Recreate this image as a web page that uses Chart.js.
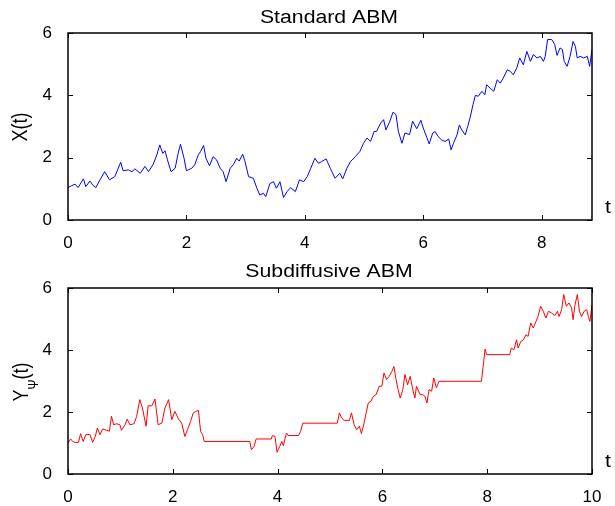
<!DOCTYPE html>
<html>
<head>
<meta charset="utf-8">
<script src="https://cdn.jsdelivr.net/npm/chart.js@4/dist/chart.umd.min.js"></script>
<style>
  html, body { margin: 0; padding: 0; background: #fff; }
  #wrap { position: relative; width: 615px; height: 506px; }
  .panel { position: absolute; left: 0; width: 615px; height: 253px; }
  #top { top: 0; }
  #bottom { top: 253px; }
</style>
</head>
<body>
<div id="wrap">
  <div class="panel" id="top"><canvas id="abmChart"></canvas></div>
  <div class="panel" id="bottom"><canvas id="subChart"></canvas></div>
</div>
<script>
// standard ABM path X(t)
const abmT = [0.00, 0.06, 0.12, 0.17, 0.26, 0.30, 0.37, 0.42, 0.47, 0.54, 0.62, 0.70, 0.79, 0.89, 0.93,
  1.02, 1.08, 1.13, 1.22, 1.30, 1.36, 1.44, 1.50, 1.55, 1.60, 1.64, 1.68, 1.74, 1.81, 1.86, 1.90, 1.96,
  2.00, 2.09, 2.14, 2.20, 2.24, 2.29, 2.33, 2.39, 2.45, 2.51, 2.57, 2.62, 2.67, 2.74, 2.79, 2.85, 2.89, 2.95, 2.99,
  3.05, 3.13, 3.19, 3.24, 3.30, 3.34, 3.41, 3.47, 3.52, 3.58, 3.64, 3.70, 3.76, 3.84, 3.91, 3.98,
  4.04, 4.10, 4.17, 4.23, 4.28, 4.36, 4.43, 4.51, 4.59, 4.64, 4.71, 4.77, 4.85, 4.93, 4.99,
  5.05, 5.11, 5.17, 5.21, 5.28, 5.33, 5.37, 5.43, 5.49, 5.54, 5.58, 5.64, 5.69, 5.77, 5.82, 5.89, 5.96,
  6.00, 6.06, 6.10, 6.16, 6.20, 6.25, 6.31, 6.37, 6.43, 6.47, 6.51, 6.57, 6.61, 6.65, 6.71, 6.75, 6.79, 6.84, 6.88, 6.93, 6.99,
  7.04, 7.07, 7.13, 7.19, 7.25, 7.30, 7.35, 7.42, 7.47, 7.52, 7.58, 7.63, 7.69, 7.75, 7.81, 7.86, 7.92, 7.98,
  8.03, 8.06, 8.10, 8.17, 8.22, 8.26, 8.31, 8.35, 8.38, 8.43, 8.48, 8.53, 8.57, 8.60, 8.65, 8.71, 8.77, 8.81, 8.85];
const abmX = [1.04, 1.10, 1.15, 1.04, 1.32, 1.07, 1.25, 1.12, 1.04, 1.29, 1.55, 1.29, 1.39, 1.85, 1.58,
  1.61, 1.55, 1.64, 1.50, 1.72, 1.55, 1.79, 2.09, 2.41, 2.14, 2.22, 1.93, 1.55, 1.66, 2.14, 2.43, 1.98,
  1.58, 1.66, 1.77, 2.09, 2.20, 2.39, 1.98, 1.74, 2.03, 1.93, 1.66, 1.55, 1.23, 1.66, 1.77, 1.98, 1.89, 2.11, 1.87,
  1.39, 1.34, 1.02, 0.80, 0.86, 0.75, 1.17, 1.23, 1.02, 1.23, 0.72, 0.91, 1.04, 0.91, 1.29, 1.23,
  1.39, 1.66, 1.98, 1.82, 1.87, 1.96, 1.66, 1.34, 1.50, 1.32, 1.66, 1.87, 2.03, 2.20, 2.46,
  2.63, 2.52, 2.84, 2.84, 3.11, 3.22, 2.89, 3.14, 3.46, 3.38, 2.84, 2.46, 2.79, 2.74, 3.17, 2.93, 3.20,
  2.95, 2.65, 2.44, 2.79, 2.84, 2.68, 2.57, 2.52, 2.60, 2.25, 2.46, 2.73, 3.05, 2.89, 2.73, 3.00, 3.27, 3.70, 4.00, 3.97, 4.13,
  4.02, 4.34, 4.23, 4.13, 4.50, 4.39, 4.55, 4.82, 4.77, 4.66, 4.88, 5.20, 4.98, 5.41, 5.09, 5.31, 5.20, 5.25,
  5.09, 5.25, 5.79, 5.79, 5.63, 5.28, 5.52, 5.47, 5.09, 4.93, 5.25, 5.73, 5.57, 5.20, 5.25, 5.20, 5.25, 4.93, 5.47];

// subdiffusive ABM path Y_psi(t), flat stretches are the trapping periods
const subT = [0.00, 0.05, 0.09, 0.13, 0.20, 0.24, 0.29, 0.34, 0.42, 0.47, 0.52, 0.56, 0.61, 0.66, 0.74, 0.79, 0.83, 0.87, 0.93, 0.99,
  1.02, 1.09, 1.13, 1.18, 1.26, 1.31, 1.37, 1.42, 1.49, 1.53, 1.60, 1.66, 1.72, 1.79, 1.85, 1.92, 1.98,
  2.04, 2.11, 2.17, 2.23, 2.28, 2.34, 2.39, 2.44, 2.49, 2.53, 2.57, 2.60,
  3.47, 3.50, 3.55, 3.59, 3.61, 3.88, 3.90, 3.95, 3.99, 4.04, 4.08, 4.11, 4.14, 4.17, 4.20, 4.40, 4.44, 4.48,
  5.14, 5.18, 5.22, 5.27, 5.37, 5.41, 5.46, 5.51, 5.56, 5.60, 5.65, 5.69, 5.73, 5.78, 5.83, 5.88, 5.94, 5.99,
  6.03, 6.08, 6.13, 6.18, 6.22, 6.26, 6.30, 6.34, 6.39, 6.43, 6.48, 6.53, 6.58, 6.62, 6.65, 6.72, 6.77, 6.81, 6.85, 6.89, 6.94, 6.98,
  7.03, 7.08, 7.89, 7.93, 7.96, 7.99, 8.43, 8.46, 8.51, 8.56, 8.59, 8.64, 8.69, 8.74, 8.78, 8.83, 8.88, 8.93, 8.97,
  9.02, 9.07, 9.12, 9.17, 9.23, 9.29, 9.34, 9.37, 9.42, 9.46, 9.51, 9.56, 9.61, 9.64, 9.67, 9.72, 9.76, 9.80, 9.85, 9.90, 9.93, 9.96, 10.00];
const subY = [1.00, 1.13, 1.05, 1.02, 1.02, 1.30, 1.05, 1.27, 1.27, 1.02, 1.21, 1.48, 1.27, 1.45, 1.41, 1.38, 1.86, 1.59, 1.62, 1.59,
  1.41, 1.59, 1.77, 1.59, 1.62, 1.86, 2.40, 2.13, 1.54, 2.20, 2.20, 2.42, 1.59, 1.64, 2.13, 2.40, 1.75,
  2.02, 1.77, 1.64, 1.21, 1.43, 1.70, 1.97, 2.02, 2.05, 1.38, 1.27, 1.05,
  1.05, 0.78, 0.89, 1.13, 1.13, 1.13, 1.24, 1.21, 0.70, 0.89, 1.05, 0.91, 1.13, 1.32, 1.24, 1.24, 1.38, 1.64,
  1.64, 1.97, 1.81, 1.73, 1.73, 1.97, 1.59, 1.43, 1.54, 1.30, 1.64, 1.97, 2.29, 2.35, 2.51, 2.56, 2.83, 2.83,
  3.26, 3.05, 3.15, 3.31, 3.47, 3.05, 2.72, 2.45, 2.72, 3.21, 2.88, 3.15, 2.72, 2.45, 2.83, 2.56, 2.56, 2.51, 2.29, 2.72, 2.67, 3.10,
  2.78, 2.99, 2.99, 3.58, 4.03, 3.85, 3.85, 4.06, 4.01, 4.33, 4.06, 4.27, 4.33, 4.49, 4.44, 4.87, 4.71, 4.92, 5.08,
  5.41, 5.25, 5.03, 5.25, 5.19, 5.11, 5.25, 5.08, 5.30, 5.79, 5.41, 5.52, 5.36, 4.98, 5.41, 5.79, 5.25, 5.08, 5.25, 5.30, 5.08, 4.92, 5.46];

const abmTicksX = [0, 2, 4, 6, 8];
const subTicksX = [0, 2, 4, 6, 8, 10];
const ticksY = [0, 2, 4, 6];

const FONT = "'Liberation Sans', Arial, Helvetica, sans-serif";
const STRETCH = 1.18;

// matlab-ish boxed axes: inward ticks on all four sides, title, axis labels
const boxAxes = {
    id: 'boxAxes',
    afterDraw(chart, args, opts) {
        const { ctx, chartArea: a, scales: { x, y } } = chart;
        ctx.save();
        ctx.strokeStyle = '#000';
        ctx.lineWidth = 1;
        const len = 5;
        ctx.beginPath();
        x.ticks.forEach(t => {
            const px = Math.round(x.getPixelForValue(t.value)) + 0.5;
            ctx.moveTo(px, a.bottom); ctx.lineTo(px, a.bottom - len);
            ctx.moveTo(px, a.top); ctx.lineTo(px, a.top + len);
        });
        y.ticks.forEach(t => {
            const py = Math.round(y.getPixelForValue(t.value)) + 0.5;
            ctx.moveTo(a.left, py); ctx.lineTo(a.left + len, py);
            ctx.moveTo(a.right, py); ctx.lineTo(a.right - len, py);
        });
        ctx.stroke();
        ctx.lineWidth = 1.5;
        ctx.strokeRect(a.left, a.top, a.right - a.left, a.bottom - a.top);

        ctx.fillStyle = '#000';
        ctx.font = `18px ${FONT}`;
        ctx.textBaseline = 'alphabetic';

        // title
        ctx.save();
        ctx.translate((a.left + a.right) / 2 - 1, opts.titleY);
        ctx.scale(STRETCH, 1);
        ctx.textAlign = 'center';
        ctx.fillText(opts.title, 0, 0);
        ctx.restore();

        // "t" at the right end of the time axis
        ctx.save();
        ctx.translate(a.right + 16, a.bottom - 7);
        ctx.scale(STRETCH, 1);
        ctx.textAlign = 'center';
        ctx.fillText('t', 0, 0);
        ctx.restore();

        // rotated y label, optional subscript
        ctx.save();
        ctx.translate(opts.ylabelX, (a.top + a.bottom) / 2 + opts.ylabelShift);
        ctx.rotate(-Math.PI / 2);
        ctx.scale(1, STRETCH);
        ctx.textAlign = 'left';
        const main = opts.ylabel, sub = opts.sub || '', rest = opts.rest || '';
        ctx.font = `18px ${FONT}`;
        const w1 = ctx.measureText(main).width;
        const w3 = ctx.measureText(rest).width;
        ctx.font = `12px ${FONT}`;
        const w2 = sub ? ctx.measureText(sub).width : 0;
        let cx = -(w1 + w2 + w3) / 2;
        ctx.font = `18px ${FONT}`;
        ctx.fillText(main, cx, 0);
        cx += w1;
        if (sub) {
            ctx.font = `12px ${FONT}`;
            ctx.fillText(sub, cx, 8.5);
            cx += w2;
            ctx.font = `18px ${FONT}`;
        }
        ctx.fillText(rest, cx, 0);
        ctx.restore();

        ctx.restore();
    }
};

function makeChart(id, ts, vals, color, xMax, xTicks, axisHeight, topPad, labels) {
    return new Chart(document.getElementById(id), {
        type: 'line',
        data: {
            datasets: [{
                data: ts.map((t, i) => ({ x: t, y: vals[i] })),
                borderColor: color,
                borderWidth: 1,
                pointRadius: 0,
                tension: 0,
                fill: false
            }]
        },
        options: {
            responsive: true,
            maintainAspectRatio: false,
            animation: false,
            devicePixelRatio: 1,
            layout: { padding: { top: topPad, right: 23, left: 0, bottom: 0 } },
            plugins: {
                legend: { display: false },
                tooltip: { enabled: false },
                boxAxes: labels
            },
            scales: {
                x: {
                    type: 'linear',
                    min: 0,
                    max: xMax,
                    afterBuildTicks: s => { s.ticks = xTicks.map(v => ({ value: v })); },
                    afterFit: s => { s.height = axisHeight; },
                    grid: { display: false },
                    border: { display: false },
                    ticks: { color: '#000', font: { family: FONT, size: 17 }, padding: 5, maxRotation: 0 }
                },
                y: {
                    min: 0,
                    max: 6,
                    afterBuildTicks: s => { s.ticks = ticksY.map(v => ({ value: v })); },
                    afterFit: s => { s.width = 68; },
                    grid: { display: false },
                    border: { display: false },
                    ticks: { color: '#000', font: { family: FONT, size: 17 }, padding: 8 }
                }
            }
        },
        plugins: [boxAxes]
    });
}

makeChart('abmChart', abmT, abmX, '#0000ff', 8.85, abmTicksX, 33, 33,
    { title: 'Standard ABM', titleY: 22.7, ylabel: 'X(t)', ylabelX: 27.2, ylabelShift: 0.5 });
makeChart('subChart', subT, subY, '#ff0000', 10, subTicksX, 32, 35,
    { title: 'Subdiffusive ABM', titleY: 23.7, ylabel: 'Y', sub: 'Ψ', rest: '(t)', ylabelX: 28.3, ylabelShift: 1 });
</script>
</body>
</html>
